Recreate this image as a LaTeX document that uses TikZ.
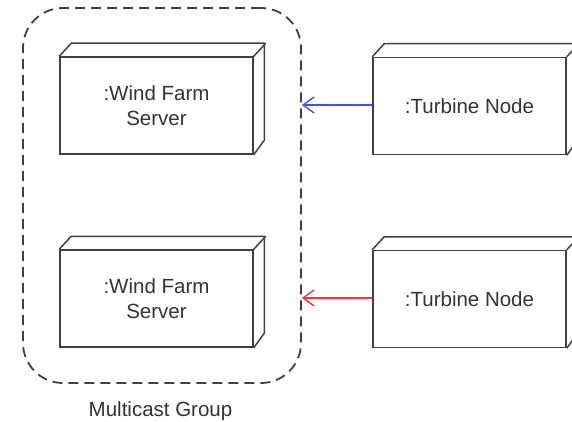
\documentclass[tikz,border=0pt]{standalone}
\usepackage{fontspec}
\setmainfont{Liberation Sans}
\usetikzlibrary{arrows.meta}
\definecolor{boxgray}{HTML}{404040}
\definecolor{txtgray}{HTML}{333333}
\definecolor{arrblue}{HTML}{4B4BFF}
\definecolor{arrred}{HTML}{FF3333}
\begin{document}
\begin{tikzpicture}[x=1pt,y=-1pt,
  box/.style={draw=boxgray, line width=1.5pt, minimum width=193pt, minimum height=97pt,
    inner sep=0pt, align=center, font=\fontsize{20.5}{25}\selectfont, text=txtgray},
  boxline/.style={draw=boxgray, line width=1.5pt, line join=round},
  grpbox/.style={draw=boxgray, line width=1.8pt, dash pattern=on 10pt off 6pt,
    rounded corners=40pt, minimum width=278pt, minimum height=375pt, inner sep=0pt},
  msg/.style={line width=1.6pt, -{Straight Barb[length=11pt,width=16pt,line width=1.4pt]}},
  lbl/.style={font=\fontsize{20.5}{25}\selectfont, text=txtgray, inner sep=0pt}]
\useasboundingbox (0,0) rectangle (572,422);
\clip (0,0) rectangle (572,422);
\node[grpbox] (grp) at (162,195.5) {};
\node[lbl] (grplbl) at (160.5,411) {Multicast Group};
\node[box] (s1) at (156.5,105.5) {:Wind Farm\\Server};
\node[box] (s2) at (156.5,298.5) {:Wind Farm\\Server};
\node[box] (t1) at (469.5,106) {:Turbine Node};
\node[box] (t2) at (469.5,299) {:Turbine Node};
\foreach \n in {s1,s2,t1,t2}{
  \draw[boxline] (\n.north west) -- ++(12,-13) -- ++(193,0) -- ++(0,97) -- (\n.south east);
  \draw[boxline] (\n.north east) -- ++(12,-13);
}
\draw[msg, arrblue] (t1.west |- 0,105) -- (grp.east |- 0,105);
\draw[msg, arrred] (t2.west |- 0,298) -- (grp.east |- 0,298);
\end{tikzpicture}
\end{document}
